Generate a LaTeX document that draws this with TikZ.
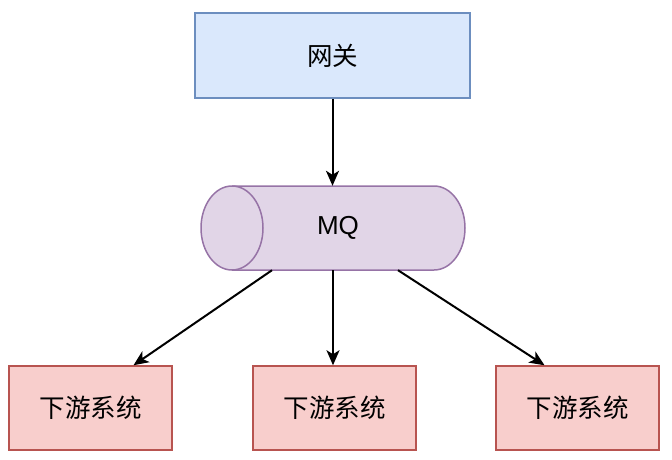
\documentclass[tikz,border=0pt]{standalone}
\usepackage{fontspec}
\setmainfont{Liberation Sans}
\newfontfamily\cjk{Noto Sans CJK SC}
\usetikzlibrary{calc, positioning, arrows.meta}
\definecolor{gwfill}{HTML}{DAE8FC}
\definecolor{gwline}{HTML}{6C8EBF}
\definecolor{mqfill}{HTML}{E1D5E7}
\definecolor{mqline}{HTML}{9673A6}
\definecolor{xyfill}{HTML}{F8CECC}
\definecolor{xyline}{HTML}{B85450}

\begin{document}
\begin{tikzpicture}[
		x=1pt, y=1pt,
		>={Stealth[length=15pt, width=13pt, inset=4pt]},
		box/.style={draw, line width=1.5pt, minimum width=163pt, minimum height=84pt, font=\cjk\fontsize{25.5}{30}\selectfont},
		gateway/.style={box, draw=gwline, fill=gwfill, minimum width=275pt, minimum height=85pt},
		downstream/.style={box, draw=xyline, fill=xyfill},
		link/.style={->, black, line width=2pt}
		]
		\useasboundingbox (0,0) rectangle (672,-460);
		
		% gateway
		\node[gateway] (gw) at (332.5,-55.5) {网关};
		
		% MQ cylinder
		\filldraw[mqline, fill=mqfill, line width=1.5pt]
			(232,-186) -- (434,-186) arc[start angle=90, end angle=-90, x radius=31, y radius=42]
			-- (232,-270) arc[start angle=270, end angle=90, x radius=31, y radius=42] -- cycle;
		\draw[mqline, line width=1.5pt] (232,-270) arc[start angle=-90, end angle=90, x radius=31, y radius=42];
		\node[minimum width=264pt, minimum height=84pt, inner sep=0pt, font=\fontsize{26}{30}\selectfont] (mq) at (333,-228) {\hspace{10pt}MQ};
		
		% downstream systems
		\node[downstream] (ds1) at (90.5,-408) {下游系统};
		\node[downstream] (ds2) at (334.5,-408) {下游系统};
		\node[downstream] (ds3) at (577.5,-408) {下游系统};
		
		% arrows
		\draw[link] (gw.south) -- (gw.south |- mq.north);
		\draw[link] ($(mq.south)+(-61,0)$) -- ($(ds1.north)+(43,0)$);
		\draw[link] (mq.south) -- (mq.south |- ds2.north);
		\draw[link] ($(mq.south)+(65,0)$) -- ($(ds3.north)+(-33,0)$);
		
	\end{tikzpicture}
\end{document}
